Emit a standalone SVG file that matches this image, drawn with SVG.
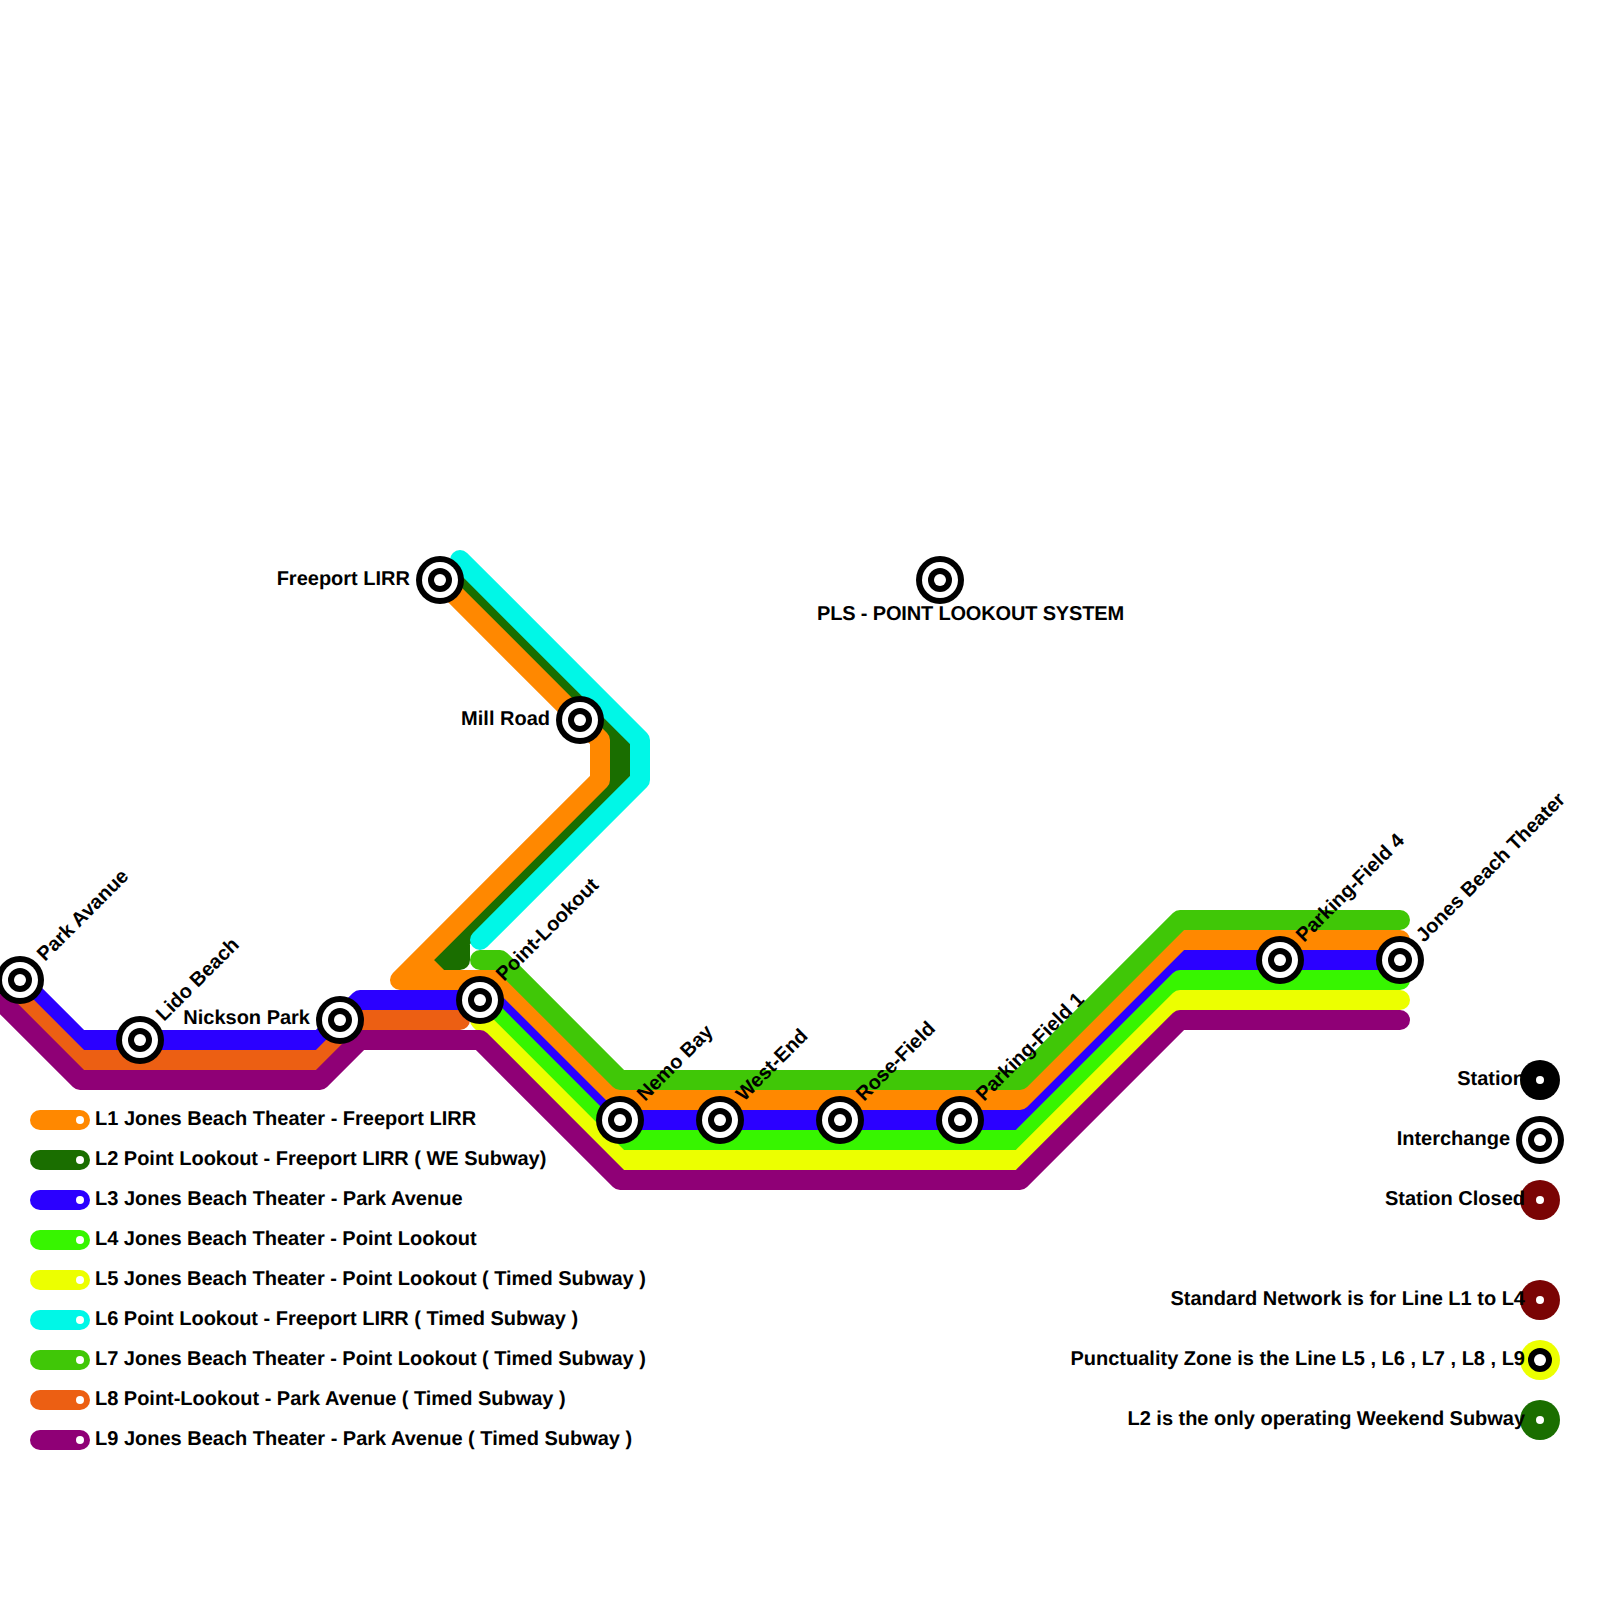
<svg xmlns="http://www.w3.org/2000/svg" width="1600" height="1600" viewBox="0 0 1600 1600">
<style>
.ln{fill:none;stroke-width:20;stroke-linecap:round;stroke-linejoin:round}
.l1{stroke:#ff8800}.l2{stroke:#1a6e00}.l3{stroke:#2b00ff}.l4{stroke:#37f500}.l5{stroke:#ecff00}.l6{stroke:#00f7e7}.l7{stroke:#40c707}.l8{stroke:#ec5f13}.l9{stroke:#8f0076}
text{font-family:"Liberation Sans",Arial,sans-serif;font-weight:bold;font-size:20px;fill:#000;text-rendering:geometricPrecision}
.e{text-anchor:end}
.t{letter-spacing:-.02px}
.k{fill:#000}.w{fill:#fff}
</style>
<defs>
<g id="ic"><circle r="24" class="k"/><circle r="18" class="w"/><circle r="12" class="k"/><circle r="6" class="w"/></g>
</defs>
<g id="connectors">
<path class="ln l3" d="M20 980L80 1040H320L360 1000H500L620 1120H1020L1180 960H1400"/>
<path class="ln l2" d="M450 570L620 740V780L440 960H460V945"/>
<path class="ln l1" d="M440 580L600 740V780L400 980H500L620 1100H1020L1180 940H1400M420 960L440 980"/>
<path class="ln l4" d="M480 1000L620 1140H1020L1180 980H1400"/>
<path class="ln l5" d="M480 1020L620 1160H1020L1180 1000H1400"/>
<path class="ln l6" d="M460 560L640 740V780L480 940"/>
<path class="ln l7" d="M480 960H500L620 1080H1020L1180 920H1400"/>
<path class="ln l8" d="M0 980L80 1060H320L360 1020H460"/>
<path class="ln l9" d="M-20 980L80 1080H320L360 1040H480L620 1180H1020L1180 1020H1400"/>
</g>
<g id="st-park"><use href="#ic" x="20" y="980"/><text transform="translate(45 962) rotate(-45)">Park Avanue</text></g>
<g id="st-lido"><use href="#ic" x="140" y="1040"/><text transform="translate(164 1022) rotate(-45)">Lido Beach</text></g>
<g id="st-nickson"><use href="#ic" x="340" y="1020"/><text class="e" x="310" y="1024">Nickson Park</text></g>
<g id="st-point"><use href="#ic" x="480" y="1000"/><text transform="translate(504 982) rotate(-45)">Point-Lookout</text></g>
<g id="st-nemo"><use href="#ic" x="620" y="1120"/><text transform="translate(645 1102) rotate(-45)">Nemo Bay</text></g>
<g id="st-west"><use href="#ic" x="720" y="1120"/><text transform="translate(744 1102) rotate(-45)">West-End</text></g>
<g id="st-rose"><use href="#ic" x="840" y="1120"/><text transform="translate(864 1102) rotate(-45)">Rose-Field</text></g>
<g id="st-pf1"><use href="#ic" x="960" y="1120"/><text transform="translate(984 1102) rotate(-45)">Parking-Field 1</text></g>
<g id="st-pf4"><use href="#ic" x="1280" y="960"/><text transform="translate(1304 943) rotate(-45)">Parking-Field 4</text></g>
<g id="st-jones"><use href="#ic" x="1400" y="960"/><text transform="translate(1424 943) rotate(-45)">Jones Beach Theater</text></g>
<g id="st-freeport"><use href="#ic" x="440" y="580"/><text class="e" x="410" y="585">Freeport LIRR</text></g>
<g id="st-mill"><use href="#ic" x="580" y="720"/><text class="e" x="550" y="725">Mill Road</text></g>
<g id="st-pls"><use href="#ic" x="940" y="580"/><text x="817" y="620" style="letter-spacing:-.16px">PLS - POINT LOOKOUT SYSTEM</text></g>
<g id="legend-lines">
<g id="lg1"><path class="ln l1" d="M40 1120H80"/><circle class="w" cx="80" cy="1120" r="4"/><text x="95" y="1125">L1 Jones Beach Theater - Freeport LIRR</text></g>
<g id="lg2"><path class="ln l2" d="M40 1160H80"/><circle class="w" cx="80" cy="1160" r="4"/><text class="t" x="95" y="1165">L2 Point Lookout - Freeport LIRR ( WE Subway)</text></g>
<g id="lg3"><path class="ln l3" d="M40 1200H80"/><circle class="w" cx="80" cy="1200" r="4"/><text x="95" y="1205">L3 Jones Beach Theater - Park Avenue</text></g>
<g id="lg4"><path class="ln l4" d="M40 1240H80"/><circle class="w" cx="80" cy="1240" r="4"/><text class="t" x="95" y="1245">L4 Jones Beach Theater - Point Lookout</text></g>
<g id="lg5"><path class="ln l5" d="M40 1280H80"/><circle class="w" cx="80" cy="1280" r="4"/><text class="t" x="95" y="1285">L5 Jones Beach Theater - Point Lookout ( Timed Subway )</text></g>
<g id="lg6"><path class="ln l6" d="M40 1320H80"/><circle class="w" cx="80" cy="1320" r="4"/><text class="t" x="95" y="1325">L6 Point Lookout - Freeport LIRR ( Timed Subway )</text></g>
<g id="lg7"><path class="ln l7" d="M40 1360H80"/><circle class="w" cx="80" cy="1360" r="4"/><text class="t" x="95" y="1365">L7 Jones Beach Theater - Point Lookout ( Timed Subway )</text></g>
<g id="lg8"><path class="ln l8" d="M40 1400H80"/><circle class="w" cx="80" cy="1400" r="4"/><text class="t" x="95" y="1405">L8 Point-Lookout - Park Avenue ( Timed Subway )</text></g>
<g id="lg9"><path class="ln l9" d="M40 1440H80"/><circle class="w" cx="80" cy="1440" r="4"/><text x="95" y="1445">L9 Jones Beach Theater - Park Avenue ( Timed Subway )</text></g>
</g>
<g id="key-station"><text class="e" x="1525" y="1085">Station</text><circle cx="1540" cy="1080" r="20" class="k"/><circle cx="1540" cy="1080" r="4" class="w"/></g>
<g id="key-interchange"><use href="#ic" x="1540" y="1140"/><text class="e" x="1510" y="1145">Interchange</text></g>
<g id="key-closed"><circle cx="1540" cy="1200" r="20" fill="#7a0404"/><circle cx="1540" cy="1200" r="4" class="w"/><text class="e" x="1525" y="1205">Station Closed</text></g>
<g id="key-standard"><circle cx="1540" cy="1300" r="20" fill="#7a0404"/><circle cx="1540" cy="1300" r="4" class="w"/><text class="e" x="1525" y="1305">Standard Network is for Line L1 to L4</text></g>
<g id="key-punct"><circle cx="1540" cy="1360" r="20" fill="#ecff00"/><circle cx="1540" cy="1360" r="12" class="k"/><circle cx="1540" cy="1360" r="6" class="w"/><text class="e" x="1525" y="1365">Punctuality Zone is the Line L5 , L6 , L7 , L8 , L9</text></g>
<g id="key-weekend"><circle cx="1540" cy="1420" r="20" fill="#1a6e00"/><circle cx="1540" cy="1420" r="4" class="w"/><text class="e" x="1525" y="1425" style="letter-spacing:-.03px">L2 is the only operating Weekend Subway</text></g>
</svg>
